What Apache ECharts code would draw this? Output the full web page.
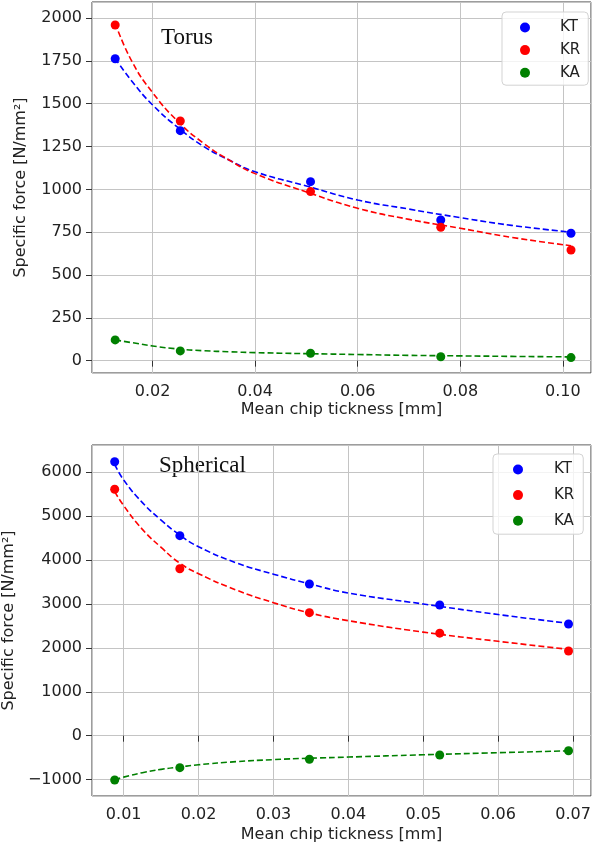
<!DOCTYPE html>
<html>
<head>
<meta charset="utf-8">
<script src="https://cdn.jsdelivr.net/npm/echarts@6/dist/echarts.min.js"></script>
<style>
html, body { margin: 0; padding: 0; background: #fff; }
#main { width: 593px; height: 851px; }
</style>
</head>
<body>
<div id="main"></div>
<script>
// measured points (torus tool)
var torusX = [0.0127, 0.0254, 0.0508, 0.0762, 0.1016]
var torusKT = [1763, 1343, 1045, 821, 744]
var torusKR = [1960, 1399, 987, 779, 646]
var torusKA = [121, 57, 43, 23, 18]

// fitted curves (torus)
var torusFitX = [0.0127, 0.016, 0.02, 0.025, 0.03, 0.035, 0.04, 0.05, 0.06, 0.07, 0.08, 0.09, 0.1016]
var torusFitKT = [1765, 1630, 1493, 1360, 1250, 1170, 1103, 1020, 938, 885, 835, 790, 750]
var torusFitKR = [1970, 1745, 1565, 1395, 1268, 1170, 1092, 985, 890, 825, 773, 720, 671]
var torusFitKA = [121, 105, 86, 68, 58, 52, 47, 41, 36, 31, 28, 25, 22]

// measured points (spherical tool)
var sphX = [0.0088, 0.0175, 0.0348, 0.0522, 0.0694]
var sphKT = [6241, 4556, 3456, 2977, 2544]
var sphKR = [5613, 3804, 2802, 2335, 1929]
var sphKA = [-1009, -729, -538, -440, -342]

// fitted curves (spherical)
var sphFitX = [0.0088, 0.01, 0.0125, 0.015, 0.0175, 0.02, 0.025, 0.03, 0.035, 0.04, 0.05, 0.06, 0.0694]
var sphFitKT = [6180, 5825, 5310, 4910, 4570, 4305, 3940, 3680, 3450, 3250, 3000, 2760, 2560]
var sphFitKR = [5558, 5240, 4700, 4290, 3930, 3690, 3320, 3030, 2790, 2620, 2360, 2150, 1968]
var sphFitKA = [-1009, -944, -843, -767, -712, -662, -592, -545, -512, -487, -435, -388, -345]

var names = ['KT', 'KR', 'KA']
var colors = ['#0000ff', '#ff0000', '#008000']

var textColor = '#222'
var font = 'DejaVu Sans'

function pts(xs, ys) {
    return xs.map(function (x, i) { return [x, ys[i]] })
}

function fitLine(xs, ys, color, idx) {
    return {
        type: 'line', name: 'fit', xAxisIndex: idx, yAxisIndex: idx,
        data: pts(xs, ys), showSymbol: false, smooth: 0.5,
        lineStyle: { color: color, width: 1.6, type: [6, 3] },
        silent: true, z: 2
    }
}

function dots(name, xs, ys, color, idx) {
    return {
        type: 'scatter', name: name, xAxisIndex: idx, yAxisIndex: idx,
        data: pts(xs, ys), symbolSize: 9,
        itemStyle: { color: color, opacity: 1 }, z: 3
    }
}

function xAxis(idx, min, max, step, gap) {
    return {
        type: 'value', gridIndex: idx, min: min, max: max,
        minInterval: step, maxInterval: step,
        name: 'Mean chip tickness [mm]', nameLocation: 'middle', nameGap: gap,
        nameTextStyle: { fontFamily: font, fontSize: 16, color: textColor },
        axisLine: { show: false },
        axisTick: { show: true, length: 6, lineStyle: { color: '#333', width: 1 } },
        axisLabel: {
            margin: 11, fontFamily: font, fontSize: 16, color: textColor,
            showMinLabel: false, showMaxLabel: false,
            formatter: function (v) { return v.toFixed(2) }
        },
        splitLine: { show: true, lineStyle: { color: '#c4c4c4', width: 1 } }
    }
}

function yAxis(idx, min, max, step, gap) {
    return {
        type: 'value', gridIndex: idx, min: min, max: max,
        minInterval: step, maxInterval: step,
        name: 'Specific force [N/mm\u00b2]', nameLocation: 'middle', nameGap: gap,
        nameTextStyle: { fontFamily: font, fontSize: 16, color: textColor },
        axisLine: { show: false },
        axisTick: { show: true, length: 6, lineStyle: { color: '#333', width: 1 } },
        axisLabel: {
            margin: 10, fontFamily: font, fontSize: 16, color: textColor,
            showMinLabel: false, showMaxLabel: false,
            formatter: function (v) { return String(v).replace('-', '\u2212') }
        },
        splitLine: { show: true, lineStyle: { color: '#c4c4c4', width: 1 } }
    }
}

function legend(idx, left, top, gap, pad, textPad) {
    return {
        data: names.map(function (n) { return { name: n, icon: 'circle' } }),
        orient: 'vertical', left: left, top: top,
        itemWidth: 10, itemHeight: 14, itemGap: gap,
        padding: pad, selectedMode: false,
        backgroundColor: 'rgba(255,255,255,0.8)',
        borderColor: '#d3d3d3', borderWidth: 1, borderRadius: 4,
        textStyle: { fontFamily: font, fontSize: 15, color: textColor, padding: [0, 0, 0, textPad] }
    }
}

var series = [
    fitLine(torusFitX, torusFitKT, colors[0], 0),
    fitLine(torusFitX, torusFitKR, colors[1], 0),
    fitLine(torusFitX, torusFitKA, colors[2], 0),
    fitLine(sphFitX, sphFitKT, colors[0], 1),
    fitLine(sphFitX, sphFitKR, colors[1], 1),
    fitLine(sphFitX, sphFitKA, colors[2], 1),
    dots('KT', torusX, torusKT, colors[0], 0),
    dots('KR', torusX, torusKR, colors[1], 0),
    dots('KA', torusX, torusKA, colors[2], 0),
    dots('KT', sphX, sphKT, colors[0], 1),
    dots('KR', sphX, sphKR, colors[1], 1),
    dots('KA', sphX, sphKA, colors[2], 1)
]

var myChart = echarts.init(document.getElementById('main'))
myChart.setOption({
    animation: false,
    backgroundColor: '#fff',
    grid: [
        { left: 92, top: 2, width: 499, height: 371, show: true, borderColor: '#3a3a3a', borderWidth: 1, backgroundColor: 'transparent', outerBoundsMode: 'none', containLabel: false },
        { left: 92, top: 445, width: 499, height: 351, show: true, borderColor: '#3a3a3a', borderWidth: 1, backgroundColor: 'transparent', outerBoundsMode: 'none', containLabel: false }
    ],
    xAxis: [
        xAxis(0, 0.00818, 0.1055, 0.02, 29),
        xAxis(1, 0.00577, 0.0724, 0.01, 31)
    ],
    yAxis: [
        yAxis(0, -72, 2094, 250, 63),
        yAxis(1, -1374, 6622, 1000, 67)
    ],
    legend: [
        legend(0, 502, 12, 7.6, [8, 8, 5, 18], 25),
        legend(1, 493, 454, 10.6, [8, 9, 6, 20], 26)
    ],
    graphic: [
        { type: 'text', left: 161, top: 26, style: { text: 'Torus', font: '23px "Liberation Serif"', fill: '#111' } },
        { type: 'text', left: 159, top: 454, style: { text: 'Spherical', font: '23px "Liberation Serif"', fill: '#111' } }
    ],
    series: series
})
</script>
</body>
</html>
